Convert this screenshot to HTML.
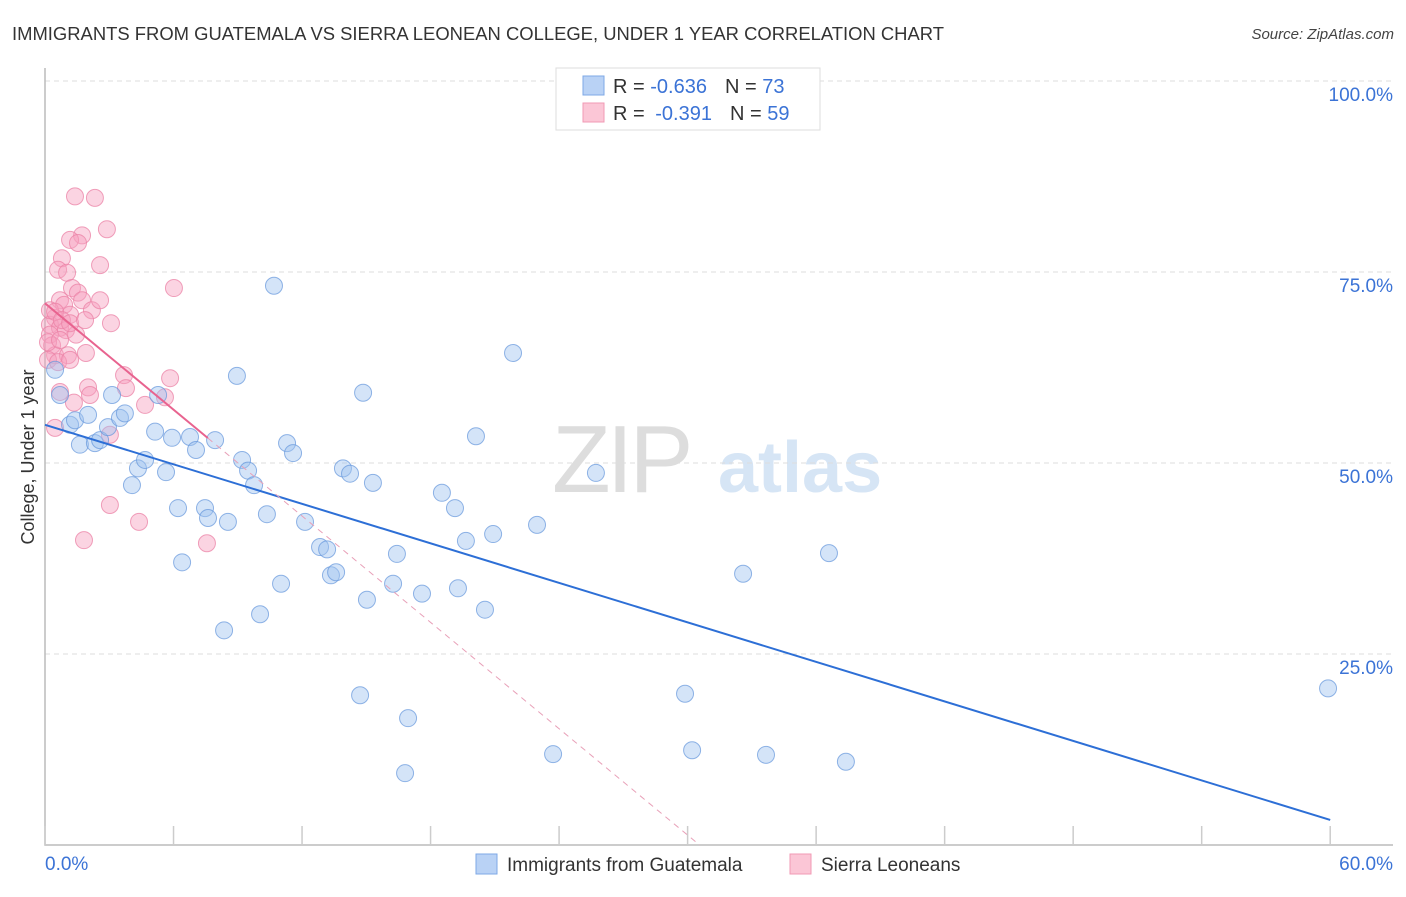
<!DOCTYPE html>
<html><head><meta charset="utf-8"><style>
body{margin:0;background:#fff;width:1406px;height:892px;overflow:hidden;font-family:"Liberation Sans",sans-serif}
svg text{font-family:"Liberation Sans",sans-serif}
</style></head><body>
<svg id="chart" width="1406" height="892" xmlns="http://www.w3.org/2000/svg">
<text x="12" y="40" font-size="18" fill="#333" textLength="932" lengthAdjust="spacingAndGlyphs">IMMIGRANTS FROM GUATEMALA VS SIERRA LEONEAN COLLEGE, UNDER 1 YEAR CORRELATION CHART</text>
<text x="1394" y="39" font-size="15" fill="#444" font-style="italic" text-anchor="end">Source: ZipAtlas.com</text>
<g>
<text x="552" y="492" font-size="96" fill="#ddd" font-family="Liberation Serif" letter-spacing="-4">ZIP</text>
<text x="718" y="492" font-size="72" fill="#d6e5f5" font-weight="bold">atlas</text>
</g>
<g id="grid"></g>
<g id="axes"></g>
<g id="pts"></g>
<g id="lines"></g>
<text transform="translate(34,457) rotate(-90)" font-size="18" fill="#333" text-anchor="middle">College, Under 1 year</text>
<g>
<rect x="556" y="68" width="264" height="62" fill="#fff" stroke="#ddd"/>
<rect x="583" y="76" width="21" height="19" fill="#b9d2f5" stroke="#7ea8e6"/>
<rect x="583" y="103" width="21" height="19" fill="#fbc6d6" stroke="#f09ab4"/>
<text x="613" y="93" font-size="20" fill="#333">R = <tspan fill="#3b73d6">-0.636</tspan><tspan dx="18">N = </tspan><tspan fill="#3b73d6">73</tspan></text>
<text x="613" y="120" font-size="20" fill="#333">R = <tspan fill="#3b73d6" dx="5">-0.391</tspan><tspan dx="18">N = </tspan><tspan fill="#3b73d6">59</tspan></text>
</g>
<g>
<rect x="476" y="854" width="21" height="20" fill="#b9d2f5" stroke="#7ea8e6"/>
<text x="507" y="871" font-size="19" fill="#333">Immigrants from Guatemala</text>
<rect x="790" y="854" width="21" height="20" fill="#fbc6d6" stroke="#f09ab4"/>
<text x="821" y="871" font-size="19" fill="#333">Sierra Leoneans</text>
</g>
</svg>
<script>
const yTicks=[100,75,50,25];
const yTickLabels=["100.0%","75.0%","50.0%","25.0%"];
const xTicks=[0,6,12,18,24,30,36,42,48,54,60];
const xTickLabels=["0.0%","60.0%"];
const blueX=[0.47,0.70,1.17,1.40,2.01,1.63,2.33,2.57,3.13,2.94,3.50,3.73,4.06,4.34,4.67,5.14,5.28,5.65,5.93,6.21,6.40,6.77,7.05,7.47,7.61,7.94,8.36,8.54,8.96,9.20,9.48,9.76,10.04,10.36,10.69,11.02,11.30,11.58,12.14,12.84,13.17,13.35,13.59,13.91,14.24,14.71,14.85,15.03,15.31,16.25,16.43,16.81,16.95,17.60,18.53,19.14,19.28,19.65,20.12,20.54,20.92,21.85,22.97,23.72,25.72,29.88,30.21,32.59,33.66,36.60,37.39,59.90];
const blueY=[62.2,58.9,55.0,55.6,56.3,52.4,52.6,53.0,58.9,54.7,55.9,56.5,47.1,49.3,50.4,54.1,58.9,48.8,53.3,44.1,37.0,53.4,51.7,44.1,42.8,53.0,28.1,42.3,61.4,50.4,49.0,47.1,30.2,43.3,73.2,34.2,52.6,51.3,42.3,39.0,38.7,35.3,35.7,49.3,48.6,19.6,59.2,32.1,47.4,34.2,38.1,9.4,16.6,32.9,46.1,44.1,33.6,39.8,53.5,30.8,40.7,64.4,41.9,11.9,48.7,19.8,12.4,35.5,11.8,38.2,10.9,20.5];
const pinkX=[1.40,2.33,2.89,1.73,1.17,1.54,0.79,0.61,1.03,2.57,6.02,0.70,1.26,1.54,0.89,1.73,2.19,1.17,0.47,0.23,0.70,0.23,0.98,1.45,0.33,3.08,0.47,1.07,1.91,0.14,0.61,3.69,5.84,2.01,3.78,0.70,2.10,4.67,5.60,1.35,3.03,0.47,3.03,4.39,1.82,7.56,0.23,0.47,0.79,0.14,0.70,1.17,1.87,2.57,1.17];
const pinkY=[84.9,84.7,80.6,79.8,79.2,78.8,76.8,75.3,74.9,75.9,72.9,71.3,72.9,72.3,70.7,71.3,70.0,69.4,69.0,68.1,67.7,66.8,67.4,66.8,65.4,68.3,64.1,64.1,64.4,63.5,63.2,61.5,61.1,59.9,59.8,59.3,58.9,57.6,58.6,57.9,53.7,54.6,44.5,42.3,39.9,39.5,70.0,69.8,68.7,65.8,66.1,68.3,68.7,71.3,63.5];
const blueFit=[55.0,-0.862];
const pinkFit=[70.9,-2.32];
const pinkSolidEnd=7.6;
const NS="http://www.w3.org/2000/svg";
const X=v=>45+v*21.42, Y=v=>845-v*7.64;
function mk(t,a,p){const e=document.createElementNS(NS,t);for(const k in a)e.setAttribute(k,a[k]);p.appendChild(e);return e;}
const grid=document.getElementById('grid'),axes=document.getElementById('axes'),pts=document.getElementById('pts'),lines=document.getElementById('lines');
yTicks.forEach((t,i)=>{
 const l=mk('line',{x1:45,x2:1393,y1:Y(t),y2:Y(t),stroke:'#ddd','stroke-dasharray':'5,4'},grid);
 
 
 const tx=mk('text',{x:1393,y:Y(t)+20,'font-size':19,fill:'#3b73d6','text-anchor':'end'},axes);
 tx.textContent=yTickLabels[i];
 
 
});
const ax=mk('path',{d:'M45,68V845H1393',fill:'none',stroke:'#bbb','stroke-width':1.5},axes);


xTicks.forEach(t=>{
 const l=mk('line',{x1:X(t),x2:X(t),y1:826,y2:845,stroke:'#ccc','stroke-width':1.5},axes);
 
 
});
[[0,'start'],[60,'end']].forEach((p,i)=>{
 const tx=mk('text',{x:i?1393:45,y:870,'font-size':19,fill:'#3b73d6','text-anchor':p[1]},axes);
 tx.textContent=xTickLabels[i];
 
 
});
for(let i=0;i<Math.min(pinkX.length,pinkY.length);i++){
 const c=mk('circle',{cx:X(pinkX[i]),cy:Y(pinkY[i]),r:8.5,fill:'rgba(246,160,190,0.45)',stroke:'rgba(235,130,165,0.75)','stroke-width':1},pts);
 
 
}
for(let i=0;i<Math.min(blueX.length,blueY.length);i++){
 const c=mk('circle',{cx:X(blueX[i]),cy:Y(blueY[i]),r:8.5,fill:'rgba(160,195,240,0.45)',stroke:'rgba(100,150,220,0.7)','stroke-width':1},pts);
 
 
}
const bl=mk('line',{x1:X(0),y1:Y(blueFit[0]),x2:X(60),y2:Y(blueFit[0]+blueFit[1]*60),stroke:'#2d6fd6','stroke-width':2},lines);


const xz=-pinkFit[0]/pinkFit[1];
const pd=mk('line',{x1:X(pinkSolidEnd),y1:Y(pinkFit[0]+pinkFit[1]*pinkSolidEnd),x2:X(xz),y2:Y(0),stroke:'#e8a0b8','stroke-width':1,'stroke-dasharray':'6,5'},lines);


const pl=mk('line',{x1:X(0),y1:Y(pinkFit[0]),x2:X(pinkSolidEnd),y2:Y(pinkFit[0]+pinkFit[1]*pinkSolidEnd),stroke:'#e8638f','stroke-width':2},lines);


</script>
</body></html>
